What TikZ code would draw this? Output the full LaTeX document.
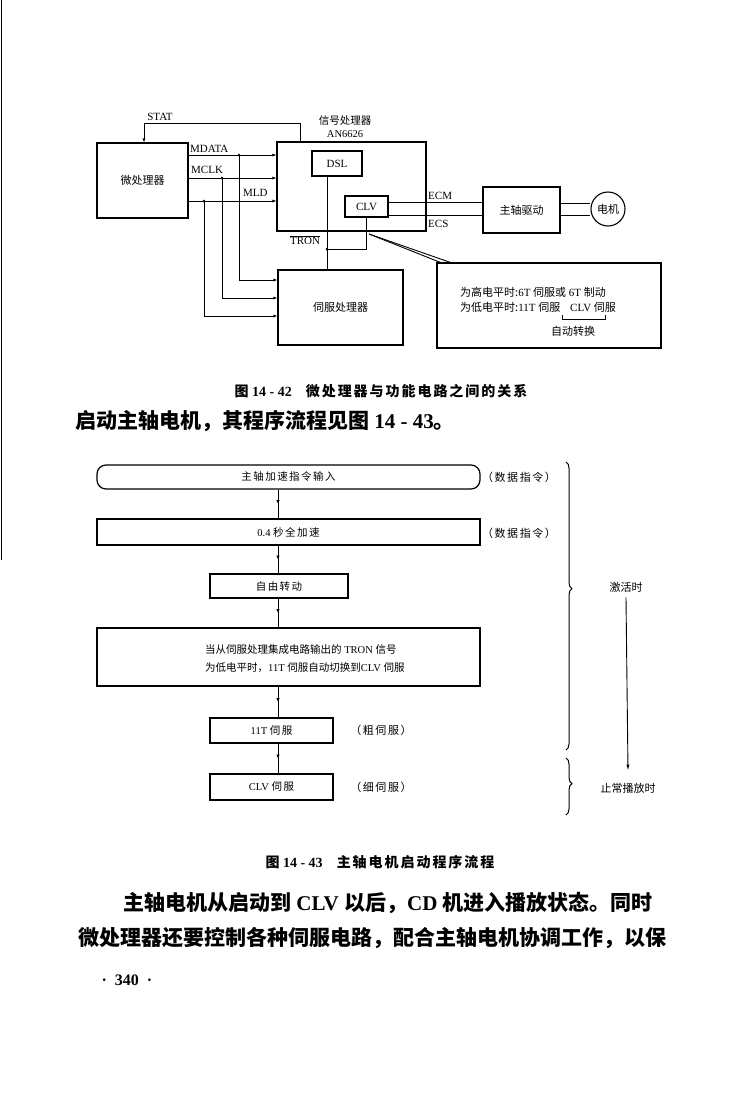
\documentclass[tikz,border=0pt]{standalone}
\usepackage{fontspec}
\setmainfont{Liberation Serif}
\newfontfamily\cjk{Noto Sans CJK SC}
\newfontfamily\cjks[LetterSpace=14]{Noto Sans CJK SC}
\usetikzlibrary{arrows.meta, positioning, calc, decorations.pathreplacing, decorations.markings}
\newcommand{\zh}[1]{{\cjk #1}}
\newcommand{\zhs}[1]{{\cjks #1}}

\begin{document}
\begin{tikzpicture}[x=1pt, y=-1pt,
  box/.style={draw, line width=1.1pt, inner sep=0pt, align=center, font=\fontsize{11}{12}\selectfont},
  wire/.style={line width=0.9pt},
  arrow/.style={wire, -{Latex[length=4pt, width=3pt]}},
  dot/.style={circle, fill, inner sep=0pt, minimum size=3pt},
  lbl/.style={inner sep=0pt, font=\fontsize{11}{12}\selectfont},
  flow/.style={draw, line width=1.2pt, inner sep=0pt, font=\fontsize{10.5}{12}\selectfont},
  midarrow/.style={wire, postaction={decorate}, decoration={markings, mark=at position 0.5 with {\arrow{Latex[length=4pt, width=3.5pt]}}}},
  body/.style={inner sep=0pt, anchor=west, font=\bfseries\fontsize{21}{24}\selectfont},
  caption/.style={font=\bfseries\fontsize{14}{16}\selectfont},
]
\path[fill=white] (0,0) rectangle (738,1120);
\useasboundingbox (0,0) rectangle (738,1120);
\draw[line width=1.5pt] (1.5,0) -- (1.5,560);

% figure 14-42
\node[box, minimum width=91pt, minimum height=75pt] (mpu) at (142.5,180.5) {\zh{微处理器}};
\node[box, minimum width=149pt, minimum height=89pt] (sp) at (351.5,186.5) {};
\node[lbl, align=center, font=\fontsize{10.5}{13}\selectfont] (splbl) at (345,127) {\zh{信号处理器}\\AN6626};
\node[box, minimum width=50pt, minimum height=25pt] (dsl) at (337,163.5) {DSL};
\node[box, minimum width=43pt, minimum height=21pt] (clv) at (366.5,206.5) {CLV};
\node[box, minimum width=77pt, minimum height=46pt] (drv) at (521.5,210) {\zh{主轴驱动}};
\node[box, circle, minimum size=34pt] (motor) at (608,209) {\zh{电机}};
\node[box, minimum width=125pt, minimum height=75pt] (servo) at (340.5,307.5) {\zh{伺服处理器}};
\node[box, minimum width=224pt, minimum height=85pt] (note) at (549,305.5) {};

\coordinate (mdj) at (239,155);
\coordinate (mcj) at (222,178);
\coordinate (mlj) at (204,201);
\coordinate (sv1) at (0,280);
\coordinate (sv2) at (0,298);
\coordinate (sv3) at (0,316);
\draw[arrow] (mpu.east |- mdj) -- (sp.west |- mdj);
\draw[arrow] (mpu.east |- mcj) -- (sp.west |- mcj);
\draw[arrow] (mpu.east |- mlj) -- (sp.west |- mlj);
\draw[arrow] (mdj) |- (servo.west |- sv1);
\draw[arrow] (mcj) |- (servo.west |- sv2);
\draw[arrow] (mlj) |- (servo.west |- sv3);
\foreach \j in {mdj, mcj, mlj}
  \node[dot] at (\j) {};
\node[lbl, anchor=west] (mdata) at (190,149) {MDATA};
\node[lbl, anchor=west] (mclk) at (191,170) {MCLK};
\node[lbl, anchor=west] (mld) at (243,193) {MLD};

% STAT
\coordinate (stx) at (300,0);
\coordinate (stc) at (144,123);
\draw[arrow] (sp.north -| stx) |- (stc) -- (mpu.north -| stc);
\node[lbl] (stat) at (160,117) {STAT};

% TRON
\coordinate (tx) at (327,0);
\coordinate (tj) at (327,249);
\draw[wire] (dsl.south -| tx) -- (servo.north -| tx);
\draw[wire] (clv.south) |- (tj);
\node[dot] at (tj) {};
\node[lbl] (tron) at (305,240) {$\overline{\mbox{TRON}}$};

% ECM / ECS
\coordinate (ecm) at (0,202);
\coordinate (ecs) at (0,215);
\draw[wire] (clv.east |- ecm) -- (drv.west |- ecm);
\draw[wire] (clv.east |- ecs) -- (drv.west |- ecs);
\node[lbl, anchor=west] (ecml) at (428,196) {ECM};
\node[lbl, anchor=west] (ecsl) at (428,224) {ECS};
\coordinate (m1) at ([yshift=6pt]motor.west);
\coordinate (m2) at ([yshift=-6pt]motor.west);
\draw[wire] (drv.east |- m1) -- (m1);
\draw[wire] (drv.east |- m2) -- (m2);

% callout
\coordinate (cl) at (369,234);
\draw[wire] (cl) -- ([xshift=4pt]note.north west);
\draw[wire] (cl) -- ([xshift=14pt]note.north west);
\node[lbl, anchor=west] (hi) at (460,292) {\zh{为高电平时:}6T \zh{伺服或} 6T \zh{制动}};
\node[lbl, anchor=west] (lo) at (460,307) {\zh{为低电平时:}11T \zh{伺服}};
\node[lbl, anchor=west] (lo2) at (570,307) {CLV \zh{伺服}};
\draw[wire] (562,315) -- (562,319) -- (605,319) -- (605,315);
\node[lbl] (auto) at (573,331) {\zh{自动转换}};

\node[caption] (cap1) at (381,391) {\zh{图} 14 - 42\quad{\cjks\fontsize{14}{16}\selectfont 微处理器与功能电路之间的关系}};
\node[body] (b1) at (75,421) {\zh{启动主轴电机，其程序流程见图} 14 - 43\zh{。}};

% figure 14-43
\node[flow, rounded corners=9pt, minimum width=383pt, minimum height=24pt] (f1) at (288.5,477) {\zhs{主轴加速指令输入}};
\node[flow, minimum width=383pt, minimum height=26pt] (f2) at (288.5,532) {0.4 \zhs{秒全加速}};
\node[flow, minimum width=138pt, minimum height=24pt] (f3) at (279,586) {\zhs{自由转动}};
\node[flow, minimum width=383pt, minimum height=58pt] (f4) at (288.5,657) {};
\node[lbl, anchor=west, align=left, font=\fontsize{10.5}{18}\selectfont] (f4t) at (205,659) {\zh{当从伺服处理集成电路输出的} TRON \zh{信号}\\\zh{为低电平时，}11T \zh{伺服自动切换到}CLV \zh{伺服}};
\node[flow, minimum width=123pt, minimum height=25pt] (f5) at (271.5,730.5) {11T \zhs{伺服}};
\node[flow, minimum width=123pt, minimum height=26pt] (f6) at (271.5,787) {CLV \zhs{伺服}};
\coordinate (fx) at (278,0);
\foreach \a/\b in {f1/f2, f2/f3, f3/f4, f4/f5, f5/f6}
  \draw[midarrow] (\a.south -| fx) -- (\b.north -| fx);

\node[lbl] (c1) at (519,477) {\zhs{（数据指令）}};
\node[lbl] (c2) at (519,533) {\zhs{（数据指令）}};
\node[lbl] (c5) at (381,730) {\zhs{（粗伺服）}};
\node[lbl] (c6) at (381,787) {\zhs{（细伺服）}};

\draw[line width=1pt, decorate, decoration={brace, amplitude=6pt, aspect=0.44}] (566,462) -- (566,750);
\draw[line width=1pt, decorate, decoration={brace, amplitude=6pt, aspect=0.45}] (566,758) -- (566,815);
\node[lbl] (act) at (626,587) {\zh{激活时}};
\node[lbl] (play) at (628,788) {\zh{止常播放时}};
\draw[wire, -{Latex[length=6pt, width=3pt]}] ([yshift=-5pt]act.south) -- ([yshift=12pt]play.north);

\node[caption] (cap2) at (380,862) {\zh{图} 14 - 43\quad{\cjks\fontsize{14}{16}\selectfont 主轴电机启动程序流程}};
\node[body] (b2) at (123,903) {\zh{主轴电机从启动到} CLV \zh{以后，}CD \zh{机进入播放状态。同时}};
\node[body] (b3) at (78,938) {\zh{微处理器还要控制各种伺服电路，配合主轴电机协调工作，以保}};
\node[font=\bfseries\fontsize{16}{18}\selectfont] (pg) at (127,980) {·\ \ 340\ \ ·};
\end{tikzpicture}
\end{document}
